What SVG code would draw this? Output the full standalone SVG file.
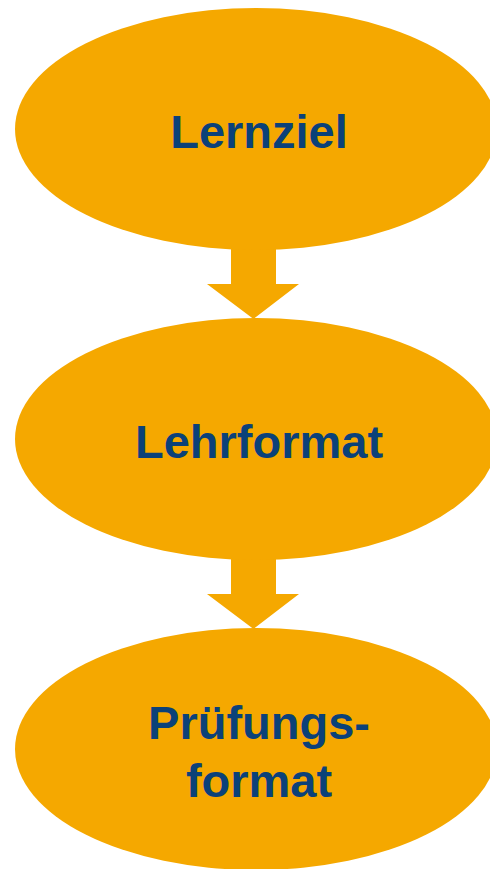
<svg xmlns="http://www.w3.org/2000/svg" width="490" height="869" viewBox="0 0 490 869">
<style>
.node{fill:#F5A800}
.lbl{font-family:"Liberation Sans",Arial,sans-serif;font-weight:bold;font-size:47px;fill:#0B4179;text-anchor:middle}
.arr{fill:#F5A800}
</style>
<rect width="490" height="869" fill="#FFFFFF"/>
<g id="connectors">
<path class="arr" d="M231,230 L276,230 L276,284 L299,284 L253.5,319 L207,284 L231,284 Z"/>
<path class="arr" d="M231,540 L276,540 L276,594 L299,594 L253.5,629 L207,594 L231,594 Z"/>
</g>
<g id="lernziel">
<ellipse class="node" cx="256" cy="129" rx="241" ry="121"/>
<text class="lbl" x="259" y="148">Lernziel</text>
</g>
<g id="lehrformat">
<ellipse class="node" cx="256" cy="439" rx="241" ry="121"/>
<text class="lbl" x="259" y="458">Lehrformat</text>
</g>
<g id="pruefungsformat">
<ellipse class="node" cx="256" cy="749" rx="241" ry="121"/>
<text class="lbl" x="259" y="739">Prüfungs-</text>
<text class="lbl" x="259" y="797">format</text>
</g>
</svg>
